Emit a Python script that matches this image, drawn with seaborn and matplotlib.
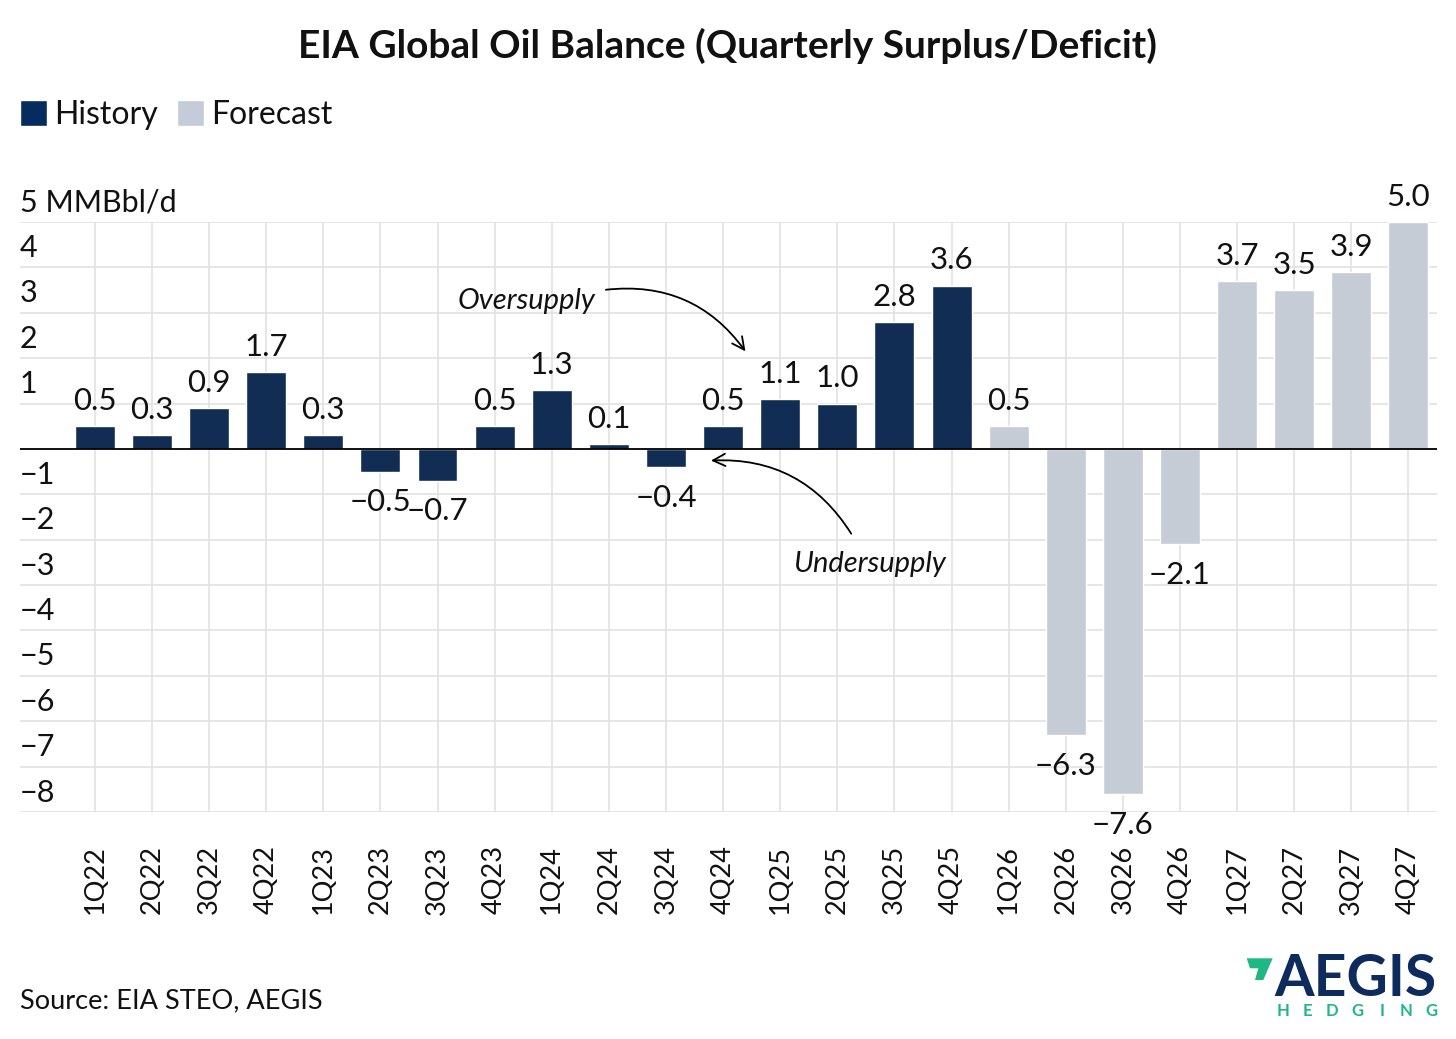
import numpy as np
import pandas as pd
import matplotlib.pyplot as plt
import seaborn as sns
from matplotlib.patches import Patch, Polygon
from matplotlib.transforms import blended_transform_factory, offset_copy

# ── Data ──────────────────────────────────────────────────────────────────────
quarters = ["1Q22", "2Q22", "3Q22", "4Q22", "1Q23", "2Q23", "3Q23", "4Q23",
            "1Q24", "2Q24", "3Q24", "4Q24", "1Q25", "2Q25", "3Q25", "4Q25",
            "1Q26", "2Q26", "3Q26", "4Q26", "1Q27", "2Q27", "3Q27", "4Q27"]
balance = [0.5, 0.3, 0.9, 1.7, 0.3, -0.5, -0.7, 0.5,
           1.3, 0.1, -0.4, 0.5, 1.1, 1.0, 2.8, 3.6,
           0.5, -6.3, -7.6, -2.1, 3.7, 3.5, 3.9, 5.0]
period = ["History"] * 16 + ["Forecast"] * 8
y_ticks = [5, 4, 3, 2, 1, -1, -2, -3, -4, -5, -6, -7, -8]

NAVY = "#062b5e"
LIGHT = "#c3ccd8"
GRID = "#e2e2e2"
GREEN = "#1fb784"
TXT = "#111111"

df = pd.DataFrame({"quarter": quarters, "balance": balance, "period": period})

sns.set_theme(style="white")
plt.rcParams["font.family"] = ["Lato", "DejaVu Sans"]

W, H = 1456, 1039
fig = plt.figure(figsize=(W / 100, H / 100), dpi=100)
ax = fig.add_axes([20 / W, 1 - 812 / H, 1417 / W, (812 - 222) / H])

sns.barplot(data=df, x="quarter", y="balance", hue="period", order=quarters,
            palette={"History": NAVY, "Forecast": LIGHT}, dodge=False,
            width=0.7, legend=False, ax=ax, zorder=3)

ax.set_xlim(-1.31, 23.5)
ax.set_ylim(-8, 5)
ax.set_yticks(range(-8, 6))
ax.set_xlabel("")
ax.set_ylabel("")
for s in ax.spines.values():
    s.set_visible(False)
ax.grid(True, color=GRID, linewidth=1.2, zorder=0)
ax.set_axisbelow(True)
ax.axhline(0, color="black", linewidth=1.3, zorder=4)

ax.tick_params(axis="x", length=0, pad=24, labelsize=19.5, rotation=90,
               labelcolor=TXT)
ax.tick_params(axis="y", length=0, labelleft=False)
for lab in ax.get_xticklabels():
    lab.set_verticalalignment("top")

# y labels sit just above their gridlines, inside the axes
trans = offset_copy(blended_transform_factory(ax.transAxes, ax.transData),
                    fig=fig, x=0, y=7.5, units="points")
for v in y_ticks:
    txt = f"{v}".replace("-", "\u2212")
    if v == 5:
        txt = "5 MMBbl/d"
    ax.text(0.0, v, txt, transform=trans, ha="left", va="baseline",
            fontsize=22, color=TXT)

# value labels (positive above, negative below with a bit more room)
def fmt(h):
    return f"{h:.1f}".replace("-", "\u2212")

for cont in ax.containers:
    pos = [fmt(b.get_height()) if b.get_height() >= 0 else "" for b in cont]
    neg = [fmt(b.get_height()) if b.get_height() < 0 else "" for b in cont]
    ax.bar_label(cont, labels=pos, padding=8, fontsize=22.5, color=TXT)
    ax.bar_label(cont, labels=neg, padding=12, fontsize=22.5, color=TXT)

# annotations
ax.annotate("", xy=(11.42, 2.1), xytext=(8.9, 3.5),
            arrowprops=dict(arrowstyle="->", color="black", lw=1.3,
                            connectionstyle="arc3,rad=-0.3",
                            mutation_scale=22))
ax.text(7.55, 3.27, "Oversupply", style="italic", fontsize=21,
        ha="center", va="center", color=TXT)
ax.annotate("", xy=(10.74, -0.26), xytext=(13.27, -1.92),
            arrowprops=dict(arrowstyle="->", color="black", lw=1.3,
                            connectionstyle="arc3,rad=0.3",
                            mutation_scale=22))
ax.text(13.57, -2.54, "Undersupply", style="italic", fontsize=21,
        ha="center", va="center", color=TXT)

# title, legend, source
fig.text(0.5, 1 - 46 / H, "EIA Global Oil Balance (Quarterly Surplus/Deficit)",
         ha="center", va="center", fontsize=28, fontweight="bold", color=TXT)
handles = [Patch(facecolor=NAVY, label="History"),
           Patch(facecolor=LIGHT, label="Forecast")]
fig.legend(handles=handles, loc="center left",
           bbox_to_anchor=(20 / W, 1 - 115 / H), ncol=2, frameon=False,
           fontsize=23, handlelength=0.85, handleheight=0.85,
           handletextpad=0.22, columnspacing=0.6, borderaxespad=0,
           borderpad=0, labelcolor=TXT)
fig.text(20 / W, 1 - 1001 / H, "Source: EIA STEO, AEGIS",
         ha="left", va="center", fontsize=19.5, color=TXT)

# logo
pts = [(1246.7, 958.3), (1272.7, 958.3), (1263.3, 980), (1255, 980),
       (1258.3, 968.3), (1250, 968.3)]
logo = Polygon([[x / W, 1 - y / H] for x, y in pts], closed=True,
               transform=fig.transFigure, facecolor=GREEN, edgecolor="none")
fig.patches.append(logo)
fig.text(1437 / W, 1 - 979 / H, "AEGIS", ha="right", va="center",
         fontsize=41, fontweight="bold", color="#0d2b5c")
for i, ch in enumerate("HEDGING"):
    fig.text((1283 + i * 24.7) / W, 1 - 1011 / H, ch, ha="center",
             va="center", fontsize=12, fontweight="bold", color=GREEN)

fig.savefig("out.png", dpi=100)
